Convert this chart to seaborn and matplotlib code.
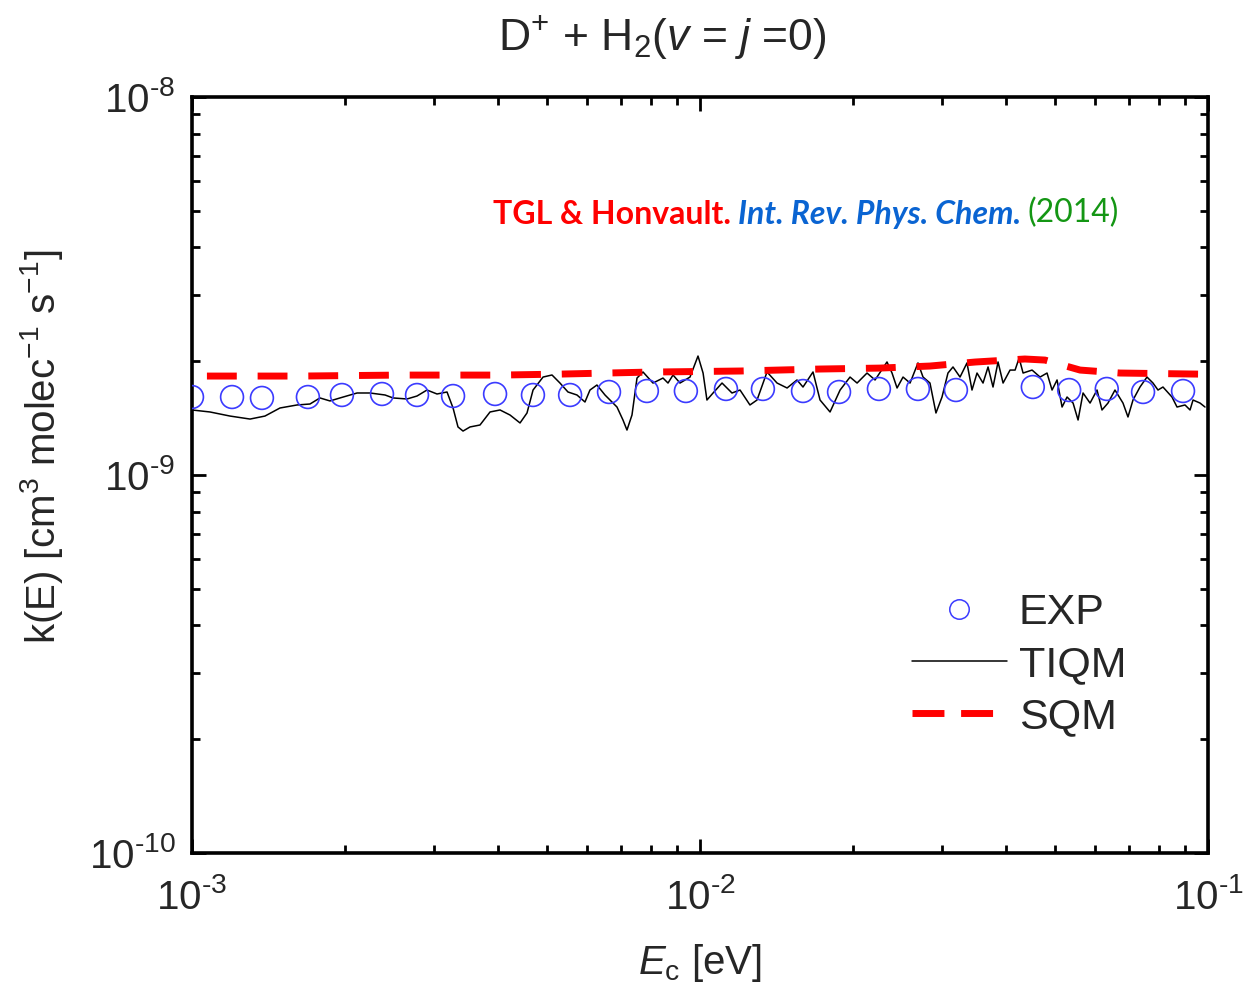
import math

import matplotlib
matplotlib.use("Agg")
import matplotlib.pyplot as plt
from matplotlib.lines import Line2D
from matplotlib.ticker import NullFormatter, FuncFormatter, LogLocator
import pandas as pd
import seaborn as sns

# ---- data -------------------------------------------------------------
# experimental rate coefficients (eV, cm^3 molec^-1 s^-1)
exp_energy = [1.000e-3, 1.199e-3, 1.373e-3, 1.691e-3, 1.973e-3, 2.366e-3,
              2.773e-3, 3.265e-3, 3.950e-3, 4.690e-3, 5.550e-3, 6.620e-3,
              7.860e-3, 9.380e-3, 1.125e-2, 1.330e-2, 1.595e-2, 1.878e-2,
              2.250e-2, 2.685e-2, 3.190e-2, 4.520e-2, 5.330e-2, 6.320e-2,
              7.450e-2, 8.930e-2]
exp_rate = [1.608e-9, 1.608e-9, 1.599e-9, 1.608e-9, 1.628e-9, 1.638e-9,
            1.628e-9, 1.618e-9, 1.638e-9, 1.628e-9, 1.628e-9, 1.658e-9,
            1.668e-9, 1.668e-9, 1.689e-9, 1.689e-9, 1.668e-9, 1.658e-9,
            1.689e-9, 1.689e-9, 1.678e-9, 1.709e-9, 1.678e-9, 1.689e-9,
            1.658e-9, 1.668e-9]

# time-independent quantum mechanical results
tiqm_energy = [1.000e-3, 1.085e-3, 1.188e-3, 1.301e-3, 1.392e-3, 1.490e-3,
               1.610e-3, 1.707e-3, 1.786e-3, 1.869e-3, 1.956e-3, 2.113e-3,
               2.240e-3, 2.399e-3, 2.487e-3, 2.650e-3, 2.773e-3, 2.901e-3,
               3.036e-3, 3.177e-3, 3.265e-3, 3.339e-3, 3.416e-3, 3.526e-3,
               3.689e-3, 3.861e-3, 4.040e-3, 4.227e-3, 4.423e-3, 4.565e-3,
               4.692e-3, 4.909e-3, 5.113e-3, 5.301e-3, 5.497e-3, 5.726e-3,
               5.937e-3, 6.073e-3, 6.268e-3, 6.501e-3, 6.864e-3, 7.053e-3,
               7.182e-3, 7.347e-3, 7.516e-3, 7.723e-3, 8.081e-3, 8.456e-3,
               8.650e-3, 8.849e-3, 9.133e-3, 9.557e-3, 9.910e-3, 1.014e-2,
               1.032e-2, 1.061e-2, 1.105e-2, 1.156e-2, 1.199e-2, 1.254e-2,
               1.295e-2, 1.355e-2, 1.418e-2, 1.484e-2, 1.552e-2, 1.595e-2,
               1.669e-2, 1.723e-2, 1.803e-2, 1.887e-2, 1.974e-2, 2.038e-2,
               2.132e-2, 2.211e-2, 2.334e-2, 2.388e-2, 2.443e-2, 2.510e-2,
               2.591e-2, 2.686e-2, 2.748e-2, 2.836e-2, 2.914e-2, 2.995e-2,
               3.077e-2, 3.148e-2, 3.250e-2, 3.354e-2, 3.431e-2, 3.510e-2,
               3.607e-2, 3.690e-2, 3.774e-2, 3.861e-2, 3.950e-2, 4.077e-2,
               4.171e-2, 4.248e-2, 4.325e-2, 4.505e-2, 4.671e-2, 4.821e-2,
               4.932e-2, 5.045e-2, 5.161e-2, 5.279e-2, 5.425e-2, 5.549e-2,
               5.676e-2, 5.859e-2, 6.047e-2, 6.185e-2, 6.355e-2, 6.560e-2,
               6.802e-2, 6.958e-2, 7.118e-2, 7.347e-2, 7.584e-2, 7.793e-2,
               7.972e-2, 8.154e-2, 8.494e-2, 8.690e-2, 9.011e-2, 9.218e-2,
               9.344e-2, 9.645e-2, 9.865e-2]
tiqm_rate = [1.486e-9, 1.468e-9, 1.432e-9, 1.406e-9, 1.432e-9, 1.504e-9,
             1.532e-9, 1.541e-9, 1.599e-9, 1.570e-9, 1.599e-9, 1.648e-9,
             1.648e-9, 1.628e-9, 1.599e-9, 1.589e-9, 1.618e-9, 1.678e-9,
             1.638e-9, 1.658e-9, 1.504e-9, 1.340e-9, 1.307e-9, 1.340e-9,
             1.356e-9, 1.468e-9, 1.486e-9, 1.441e-9, 1.373e-9, 1.459e-9,
             1.678e-9, 1.816e-9, 1.839e-9, 1.751e-9, 1.658e-9, 1.628e-9,
             1.560e-9, 1.678e-9, 1.730e-9, 1.628e-9, 1.513e-9, 1.398e-9,
             1.315e-9, 1.441e-9, 1.805e-9, 1.873e-9, 1.751e-9, 1.805e-9,
             1.751e-9, 1.839e-9, 1.751e-9, 1.816e-9, 2.064e-9, 1.861e-9,
             1.579e-9, 1.648e-9, 1.751e-9, 1.648e-9, 1.678e-9, 1.532e-9,
             1.579e-9, 1.873e-9, 1.751e-9, 1.699e-9, 1.784e-9, 1.709e-9,
             1.873e-9, 1.579e-9, 1.468e-9, 1.678e-9, 1.816e-9, 1.751e-9,
             1.861e-9, 1.784e-9, 1.991e-9, 1.861e-9, 1.699e-9, 1.816e-9,
             1.751e-9, 1.979e-9, 1.816e-9, 1.751e-9, 1.459e-9, 1.608e-9,
             1.861e-9, 1.931e-9, 1.816e-9, 1.979e-9, 1.678e-9, 1.861e-9,
             1.751e-9, 1.931e-9, 1.709e-9, 1.991e-9, 1.751e-9, 1.895e-9,
             1.895e-9, 2.039e-9, 1.861e-9, 1.895e-9, 1.816e-9, 1.861e-9,
             1.678e-9, 1.784e-9, 1.513e-9, 1.608e-9, 1.550e-9, 1.398e-9,
             1.648e-9, 1.550e-9, 1.678e-9, 1.486e-9, 1.550e-9, 1.678e-9,
             1.550e-9, 1.424e-9, 1.579e-9, 1.709e-9, 1.816e-9, 1.751e-9,
             1.678e-9, 1.709e-9, 1.608e-9, 1.513e-9, 1.532e-9, 1.486e-9,
             1.579e-9, 1.550e-9, 1.513e-9]

# statistical quantum method results
sqm_energy = [1.070e-3, 1.632e-3, 2.567e-3, 4.040e-3, 5.300e-3, 7.970e-3,
              1.199e-2, 1.723e-2, 2.260e-2, 2.836e-2, 3.478e-2, 4.360e-2,
              4.776e-2, 5.600e-2, 6.710e-2, 9.560e-2]
sqm_rate = [1.827e-9, 1.827e-9, 1.838e-9, 1.838e-9, 1.849e-9, 1.872e-9,
            1.884e-9, 1.907e-9, 1.918e-9, 1.942e-9, 1.990e-9, 2.027e-9,
            2.014e-9, 1.895e-9, 1.861e-9, 1.849e-9]

series_labels = ["EXP", "TIQM", "SQM"]

# ---- style -------------------------------------------------------------
sns.set_theme(style="ticks")
plt.rcParams.update({
    "font.family": ["Liberation Sans", "DejaVu Sans"],
    "mathtext.fontset": "custom",
    "mathtext.rm": "Liberation Sans",
    "mathtext.it": "Liberation Sans:italic",
    "mathtext.bf": "Liberation Sans:bold",
    "axes.unicode_minus": False,
    "axes.linewidth": 2.6,
    "axes.edgecolor": "black",
})

BLUE = "#3b3bff"
RED = "#ff0000"

fig = plt.figure(figsize=(12.45, 10.0), dpi=100)
ax = fig.add_axes([192 / 1245, 1 - 853 / 1000, 1016 / 1245, 756 / 1000])

df_exp = pd.DataFrame({"E": exp_energy, "k": exp_rate})
df_tiqm = pd.DataFrame({"E": tiqm_energy, "k": tiqm_rate})
df_sqm = pd.DataFrame({"E": sqm_energy, "k": sqm_rate})

sns.lineplot(data=df_tiqm, x="E", y="k", ax=ax, color="black", linewidth=1.1,
             sort=False, estimator=None, zorder=2)
sns.lineplot(data=df_sqm, x="E", y="k", ax=ax, color=RED, linewidth=5,
             linestyle=(0, (4.3, 3.0)), sort=False, estimator=None, zorder=3)
sns.scatterplot(data=df_exp, x="E", y="k", ax=ax, marker="o", s=270,
                facecolors="none", edgecolor=BLUE, linewidth=1.2, zorder=4)

ax.set_xscale("log")
ax.set_yscale("log")
ax.set_xlim(1e-3, 1e-1)
ax.set_ylim(1e-10, 1e-8)


def decade_label(value, _pos):
    """Power-of-ten label with a plain hyphen in the exponent."""
    exponent = int(round(math.log10(value)))
    sign = "-" if exponent < 0 else ""
    return r"10$^{\text{%s%d}}$" % (sign, abs(exponent))


for axis in (ax.xaxis, ax.yaxis):
    axis.set_major_locator(LogLocator(base=10))
    axis.set_major_formatter(FuncFormatter(decade_label))
    axis.set_minor_formatter(NullFormatter())

ax.tick_params(which="both", direction="in", top=True, right=True,
               width=2, color="black", labelsize=29)
ax.tick_params(axis="x", which="major", pad=18)
ax.tick_params(axis="y", which="major", pad=12)
ax.tick_params(which="major", length=10)
ax.tick_params(which="minor", length=6)

ax.set_xlabel(r"$\mathit{E}_{\mathrm{c}}$ [eV]", fontsize=29)
ax.set_ylabel(r"k(E) [cm$^{3}$ molec$^{-1}$ s$^{-1}$]", fontsize=29)
ax.xaxis.set_label_coords(0.5, -0.118)
ax.yaxis.set_label_coords(-0.125, 0.537)

fig.text(662 / 1245, 0.963, r"D$^{+}$ + H$_{2}$($\mathit{v}$ = $\mathit{j}$ =0)",
         fontsize=32, ha="center", va="center")

# ---- citation line ----------------------------------------------------
cite_kw = dict(fontsize=23, family=["Lato", "DejaVu Sans"])
t1 = ax.text(0.296, 0.826, "TGL & Honvault.", transform=ax.transAxes,
             color=RED, fontweight="bold", va="bottom", **cite_kw)
t2 = ax.annotate("Int. Rev. Phys. Chem.", xy=(1, 0), xycoords=t1,
                 xytext=(5, 0), textcoords="offset points", va="bottom",
                 color="#0a64d2", fontweight="bold", fontstyle="italic", **cite_kw)
t3 = ax.annotate("(2014)", xy=(1, 0), xycoords=t2,
                 xytext=(5, 0), textcoords="offset points", va="bottom",
                 color="#149614", **cite_kw)

# ---- legend -----------------------------------------------------------
handles = [
    Line2D([], [], marker="o", markersize=14, markerfacecolor="none",
           markeredgecolor=BLUE, markeredgewidth=1.1, linestyle="none"),
    Line2D([], [], color="black", linewidth=1.1),
    Line2D([], [], color=RED, linewidth=5, linestyle=(0, (4.6, 2.4))),
]
ax.legend(handles, series_labels, loc="upper left",
          bbox_to_anchor=((912 - 192) / 1016, (853 - 593) / 756),
          frameon=False, fontsize=31, handlelength=2.2, handletextpad=0.28,
          labelspacing=0.28, borderpad=0, borderaxespad=0)

fig.savefig("out.png", dpi=100, facecolor="white")
